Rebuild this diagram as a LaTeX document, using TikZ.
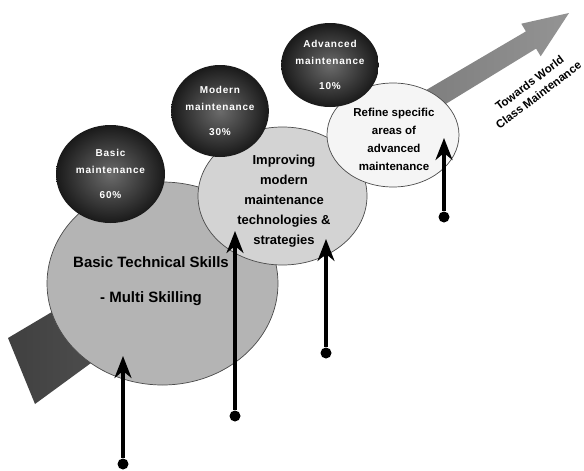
\documentclass[tikz,border=0pt]{standalone}
\usepackage{fontspec}
\setmainfont{Liberation Sans}
\newfontfamily\circfont[LetterSpace=8]{Liberation Sans}
\usetikzlibrary{arrows.meta,shapes.geometric}
\definecolor{outl}{HTML}{4A4A4A}
\definecolor{bigfill}{HTML}{B4B4B4}
\definecolor{midfill}{HTML}{D3D3D3}
\definecolor{smallfill}{HTML}{F5F5F5}
\begin{document}
\begin{tikzpicture}[x=1pt,y=-1pt,
  zone/.style={ellipse, draw=outl, line width=0.7pt, inner sep=0pt},
  zonetext/.style={align=center, inner sep=1pt},
  ball/.style={ellipse, inner sep=0pt, inner color=black!58, outer color=black!90,
    align=center, text=white, font=\circfont\bfseries\fontsize{10}{17}\selectfont},
  dot/.style={circle, fill=black, inner sep=0pt, minimum size=11pt},
  conn/.style={line width=3.2pt, arrows={-Stealth[length=22pt,width=17pt,inset=7pt]}},
]
\useasboundingbox (0,0) rectangle (584,471);
% big progress arrow
\shade[left color=black!75, right color=black!42]
  (8,338) -- (430.4,87.5) -- (525.9,31.4) -- (521.3,23.7) -- (569,13)
  -- (540.7,56.3) -- (536.1,48.6) -- (441.6,106.5) -- (35,404) -- cycle;
% zones
\node[zone, fill=bigfill, minimum width=231pt, minimum height=203pt] (big) at (162.5,283.5) {};
\node[zonetext, font=\bfseries\fontsize{15}{35}\selectfont] (bigtxt) at (151,281)
  {Basic Technical Skills\\- Multi Skilling};
\node[zone, fill=midfill, minimum width=169pt, minimum height=138pt] (mid) at (282.5,196) {};
\node[zonetext, font=\bfseries\fontsize{13}{20}\selectfont] (midtxt) at (284,201)
  {Improving\\modern\\maintenance\\technologies \&\\strategies};
\node[zone, fill=smallfill, minimum width=132pt, minimum height=104pt] (small) at (393,135) {};
\node[zonetext, font=\bfseries\fontsize{11.5}{18}\selectfont] (smalltxt) at (394,139)
  {Refine specific\\areas of\\advanced\\maintenance};
% dark balls
\node[ball, minimum width=109pt, minimum height=98pt] (b1) at (110.5,174)
  {Basic\\maintenance\\[8pt]60\%};
\node[ball, minimum width=96pt, minimum height=92pt] (b2) at (220,111)
  {Modern\\maintenance\\[8pt]30\%};
\node[ball, minimum width=96pt, minimum height=84pt] (b3) at (330,65)
  {Advanced\\maintenance\\[8pt]10\%};
% label of the big arrow
\node[rotate=37, align=center, inner sep=0pt, font=\bfseries\fontsize{11.5}{15}\selectfont] (goal) at (534,89)
  {Towards World\\Class Maintenance};
% input arrows
\node[dot] (d1) at (123,464) {};
\node[dot] (d2) at (235,416) {};
\node[dot] (d3) at (326,353) {};
\node[dot] (d4) at (444,217) {};
\coordinate (t1) at (123,356);
\coordinate (t2) at (235,231);
\coordinate (t3) at (326,239);
\coordinate (t4) at (444,138);
\draw[conn] (d1) -- (t1);
\draw[conn] (d2) -- (t2);
\draw[conn] (d3) -- (t3);
\draw[conn] (d4) -- (t4);
\end{tikzpicture}
\end{document}
